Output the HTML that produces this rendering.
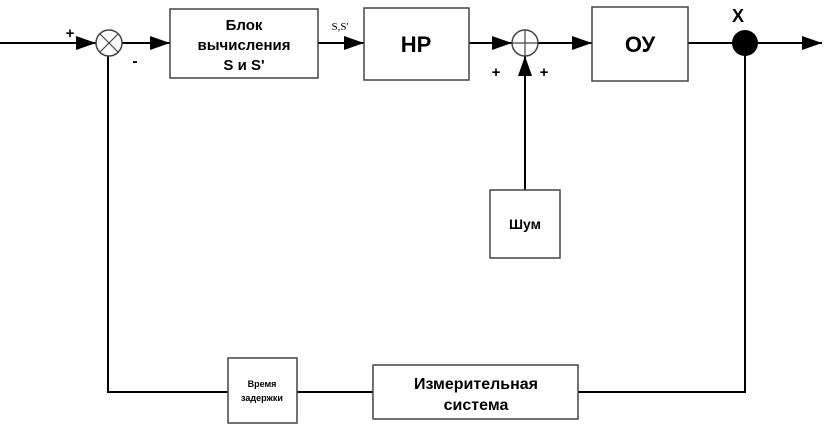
<!DOCTYPE html>
<html><head><meta charset="utf-8"><style>body{margin:0;background:#fff}</style></head><body>
<svg width="830" height="428" viewBox="0 0 830 428" xmlns="http://www.w3.org/2000/svg" font-family="Liberation Sans, sans-serif" font-weight="bold">
<defs><marker id="a" markerWidth="10" markerHeight="8" refX="10" refY="4" orient="auto" markerUnits="userSpaceOnUse"><path d="M0,0 L10,4 L0,8 z" fill="#000"/></marker>
<marker id="b" markerWidth="20" markerHeight="14" refX="20" refY="7" orient="auto" markerUnits="userSpaceOnUse"><path d="M0,0 L20,7 L0,14 z" fill="#000"/></marker></defs>
<g stroke="#000" stroke-width="2" fill="none">
<line x1="0" y1="43" x2="96" y2="43" marker-end="url(#b)"/>
<line x1="122" y1="43" x2="170" y2="43" marker-end="url(#b)"/>
<line x1="318" y1="43" x2="364" y2="43" marker-end="url(#b)"/>
<line x1="469" y1="43" x2="512" y2="43" marker-end="url(#b)"/>
<line x1="538" y1="43" x2="592" y2="43" marker-end="url(#b)"/>
<line x1="688" y1="43" x2="822" y2="43" marker-end="url(#b)"/>
<line x1="525" y1="190" x2="525" y2="56" marker-end="url(#b)"/>
<polyline points="745,43 745,392 578,392"/>
<line x1="373" y1="392" x2="297" y2="392"/>
<polyline points="228,392 108,392 108,56"/>
</g>
<g stroke="#444" stroke-width="1.5" fill="#fff">
<rect x="170" y="9" width="148" height="69"/>
<rect x="364" y="8" width="105" height="72"/>
<rect x="592" y="7" width="96" height="74"/>
<rect x="490" y="190" width="70" height="68"/>
<rect x="228" y="358" width="69" height="65"/>
<rect x="373" y="365" width="205" height="54"/>
<circle cx="109" cy="43" r="13"/>
<circle cx="525" cy="43" r="13"/>
</g>
<g stroke="#444" stroke-width="1.2">
<line x1="100" y1="34" x2="118" y2="52"/><line x1="118" y1="34" x2="100" y2="52"/>
<line x1="512" y1="43" x2="538" y2="43"/><line x1="525" y1="30" x2="525" y2="56"/>
</g>
<circle cx="745" cy="43" r="13" fill="#000"/>
<g text-anchor="middle" fill="#000">
<text x="244" y="30" font-size="15">Блок</text>
<text x="244" y="50" font-size="15">вычисления</text>
<text x="244" y="70" font-size="15">S и S'</text>
<text x="416" y="52" font-size="22">НР</text>
<text x="640" y="52" font-size="22">ОУ</text>
<text x="525" y="229" font-size="14">Шум</text>
<text x="262" y="387" font-size="9">Время</text>
<text x="262" y="401" font-size="9">задержки</text>
<text x="476" y="389" font-size="16">Измерительная</text>
<text x="476" y="410" font-size="16">система</text>
<text x="738" y="22" font-size="18">X</text>
<text x="70" y="38" font-size="15">+</text>
<text x="135" y="66" font-size="16">-</text>
<text x="496" y="77" font-size="15">+</text>
<text x="544" y="77" font-size="15">+</text>
<text x="340" y="30" font-size="11" font-weight="normal" font-family="Liberation Serif, serif">S,S'</text>
</g>
</svg>
</body></html>
